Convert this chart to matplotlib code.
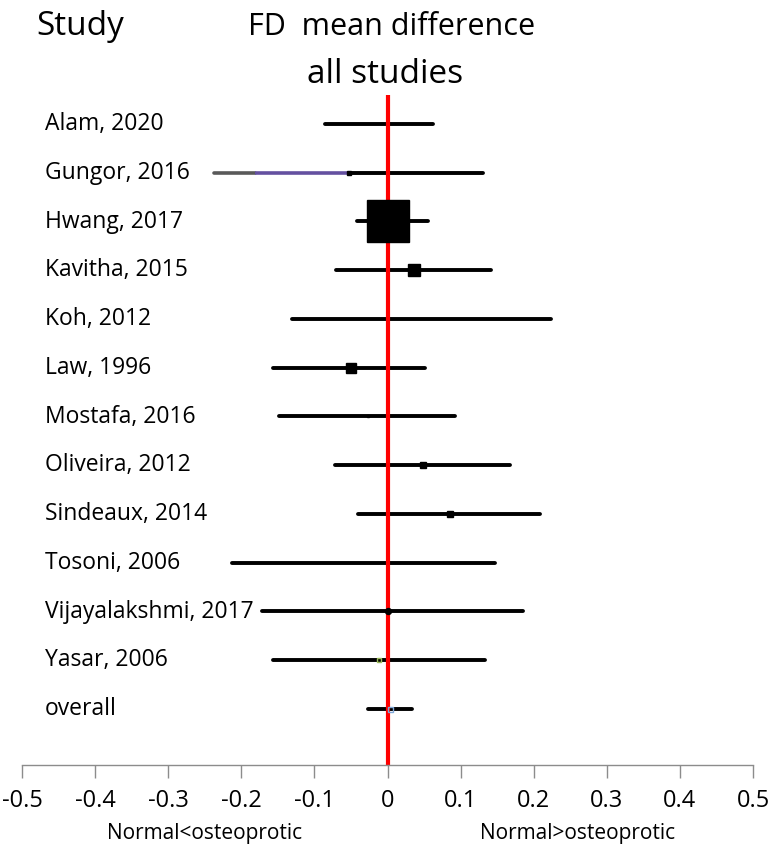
import numpy as np
import matplotlib
matplotlib.use("Agg")
import matplotlib.pyplot as plt

# data
studies = ["Alam, 2020", "Gungor, 2016", "Hwang, 2017", "Kavitha, 2015", "Koh, 2012",
           "Law, 1996", "Mostafa, 2016", "Oliveira, 2012", "Sindeaux, 2014",
           "Tosoni, 2006", "Vijayalakshmi, 2017", "Yasar, 2006"]
mean_diff = [-0.012, -0.052, 0.0, 0.036, 0.047, -0.050, -0.026, 0.048, 0.085, -0.033, 0.0, -0.011]
ci_low = [-0.086, -0.237, -0.042, -0.071, -0.131, -0.156, -0.148, -0.072, -0.041, -0.213, -0.171, -0.157]
ci_high = [0.062, 0.131, 0.056, 0.141, 0.224, 0.051, 0.092, 0.168, 0.209, 0.147, 0.186, 0.133]
weights = [0.0, 1.1, 78.0, 7.5, 0.0, 5.4, 0.4, 2.2, 1.6, 0.0, 1.6, 1.1]
overall_mean = 0.004
overall_ci = (-0.026, 0.034)
gungor_split = -0.181   # grey / purple change on the Gungor line
ticks = [-0.5, -0.4, -0.3, -0.2, -0.1, 0, 0.1, 0.2, 0.3, 0.4, 0.5]
tick_labels = ["-0.5", "-0.4", "-0.3", "-0.2", "-0.1", "0", "0.1", "0.2", "0.3", "0.4", "0.5"]

plt.rcParams['font.family'] = ['Open Sans', 'DejaVu Sans']

fig = plt.figure(figsize=(7.68, 8.52), dpi=100)
ax = fig.add_axes([22/768, 1 - 765/852, (753 - 22)/768, (765 - 95)/852])

n = len(studies)

ax.axvline(0, color='#ff0000', lw=3, zorder=2)

for i in range(n):
    if studies[i].startswith("Gungor"):
        ax.plot([ci_low[i], gungor_split], [i, i], color='#595959', lw=2.6,
                solid_capstyle='round', zorder=1)
        ax.plot([gungor_split, mean_diff[i]], [i, i], color='#6450a0', lw=2.6,
                solid_capstyle='butt', zorder=1)
        ax.plot([mean_diff[i], ci_high[i]], [i, i], color='black', lw=2.8,
                solid_capstyle='round', zorder=1)
    else:
        ax.plot([ci_low[i], ci_high[i]], [i, i], color='black', lw=2.8,
                solid_capstyle='round', zorder=1)
    w = weights[i]
    if w <= 0:
        continue
    size = 30 * np.sqrt(w / max(weights))
    if studies[i].startswith("Vijayalakshmi"):
        ax.plot(mean_diff[i], i, 'o', ms=size, color='black', zorder=3)
    elif studies[i].startswith("Yasar"):
        ax.plot(mean_diff[i], i, 's', ms=size, mfc='none', mec='#9bbb59', mew=1, zorder=3)
    else:
        ax.plot(mean_diff[i], i, 's', ms=size, color='black', zorder=3)

# overall
ax.plot(overall_ci, [n, n], color='black', lw=2.8, solid_capstyle='round', zorder=1)
ax.plot(overall_mean, n, 's', ms=3.6, mfc='none', mec='#7fa7d8', mew=1, zorder=3)

labels = studies + ["overall"]
for i, lab in enumerate(labels):
    fig.text(45/768, 1 - (124 + 48.75*i)/852, lab, fontsize=16.5, ha='left', va='center')

ax.set_xlim(-0.5, 0.5)
ax.set_ylim(13.15, -0.595)
ax.set_xticks(ticks)
ax.set_xticklabels(tick_labels, fontsize=17)
ax.set_yticks([])
for s in ['top', 'right', 'left']:
    ax.spines[s].set_visible(False)
ax.spines['bottom'].set_color('#8c8c8c')
ax.spines['bottom'].set_linewidth(1)
ax.tick_params(axis='x', direction='out', length=9, width=1, color='#8c8c8c', pad=8)

fig.text(36/768, 1 - 35/852, "Study", fontsize=24, ha='left', va='baseline')
fig.text(392/768, 1 - 35/852, "FD  mean difference", fontsize=22, ha='center', va='baseline')
fig.text(385/768, 1 - 83/852, "all studies", fontsize=24, ha='center', va='baseline')
fig.text(205/768, 1 - 834/852, "Normal<osteoprotic", fontsize=15, ha='center', va='center')
fig.text(578/768, 1 - 834/852, "Normal>osteoprotic", fontsize=15, ha='center', va='center')

fig.savefig("out.png", dpi=100)
